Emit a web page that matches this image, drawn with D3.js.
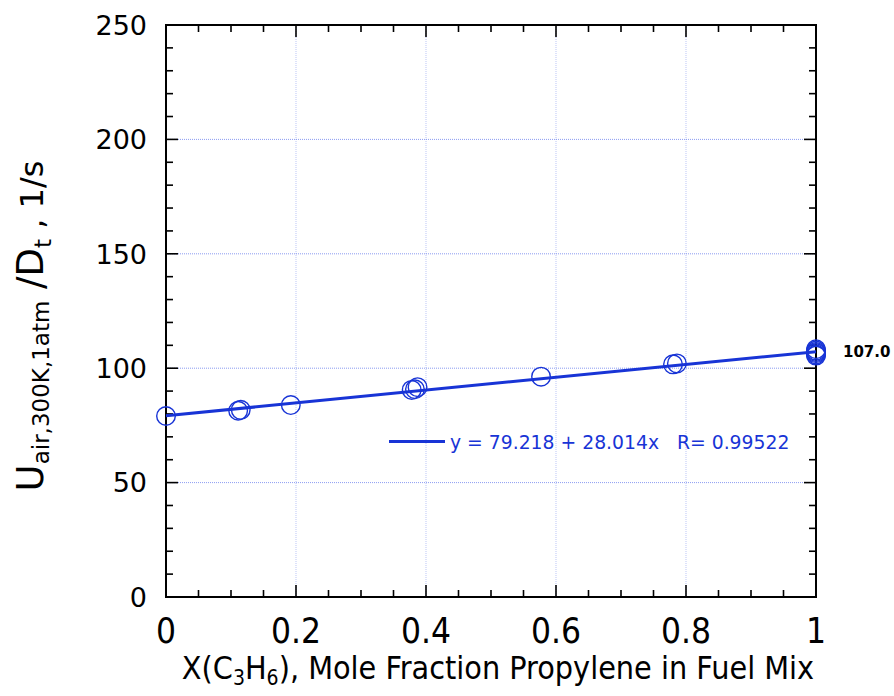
<!DOCTYPE html>
<html>
<head>
<meta charset="utf-8">
<script src="https://cdn.jsdelivr.net/npm/d3@7/dist/d3.min.js"></script>
<style>
  html, body { margin: 0; padding: 0; background: #fff; }
  svg { display: block; }
</style>
</head>
<body>
<svg id="chart" width="894" height="696"></svg>
<script>
// Measured strain rate at extinction vs. propylene mole fraction in the fuel
const xFraction = [0, 0.111, 0.115, 0.192, 0.378, 0.383, 0.387, 0.577, 0.780, 0.786, 1, 1, 1, 1, 1, 1];
const strainRate = [79.1, 81.4, 81.8, 83.9, 90.5, 90.8, 91.7, 96.3, 101.7, 102.1, 105.5, 106.0, 106.6, 107.1, 107.7, 108.3];

// Linear fit y = a + b x
const fitIntercept = 79.218;
const fitSlope = 28.014;
const fitR = 0.99522;
const endLabel = "107.0";

const xTicks = [0, 0.2, 0.4, 0.6, 0.8, 1];
const xTickLabels = ["0", "0.2", "0.4", "0.6", "0.8", "1"];
const yTicks = [0, 50, 100, 150, 200, 250];

const blue = "#1834d6";
const svg = d3.select("#chart");
const plotL = 166, plotR = 816, plotT = 25, plotB = 597;

const x = d3.scaleLinear().domain([0, 1]).range([plotL, plotR]);
const y = d3.scaleLinear().domain([0, 250]).range([plotB, plotT]);

// grid lines at the major ticks
const grid = svg.append("g");
grid.selectAll("line.gx").data(xTicks.slice(1, -1)).join("line")
  .attr("x1", d => x(d)).attr("x2", d => x(d))
  .attr("y1", plotT).attr("y2", plotB)
  .attr("stroke", "#8f9ff0").attr("stroke-width", 0.6)
  .attr("stroke-dasharray", "1,1");
grid.selectAll("line.gy").data(yTicks.slice(1, -1)).join("line")
  .attr("x1", plotL).attr("x2", plotR)
  .attr("y1", d => y(d)).attr("y2", d => y(d))
  .attr("stroke", "#6f82ee").attr("stroke-width", 0.8)
  .attr("stroke-dasharray", "1,1");

// inward ticks on all four sides
const xMinor = d3.range(0, 1.0001, 0.05);
const yMinor = d3.range(0, 250.001, 10);
const majLen = 12, minLen = 7;
function isMajorX(v) { return Math.abs(v * 5 - Math.round(v * 5)) < 1e-6; }
function isMajorY(v) { return Math.abs(v / 50 - Math.round(v / 50)) < 1e-6; }

const axisG = svg.append("g").attr("stroke", "#000").attr("stroke-width", 1.6);
axisG.selectAll("line.xb").data(xMinor).join("line")
  .attr("x1", d => x(d)).attr("x2", d => x(d))
  .attr("y1", plotB).attr("y2", d => plotB - (isMajorX(d) ? majLen : minLen));
axisG.selectAll("line.xt").data(xMinor).join("line")
  .attr("x1", d => x(d)).attr("x2", d => x(d))
  .attr("y1", plotT).attr("y2", d => plotT + (isMajorX(d) ? majLen : minLen));
axisG.selectAll("line.yl").data(yMinor).join("line")
  .attr("y1", d => y(d)).attr("y2", d => y(d))
  .attr("x1", plotL).attr("x2", d => plotL + (isMajorY(d) ? majLen : minLen));
axisG.selectAll("line.yr").data(yMinor).join("line")
  .attr("y1", d => y(d)).attr("y2", d => y(d))
  .attr("x1", plotR).attr("x2", d => plotR - (isMajorY(d) ? majLen : minLen));
svg.append("rect")
  .attr("x", plotL).attr("y", plotT).attr("width", plotR - plotL).attr("height", plotB - plotT)
  .attr("fill", "none").attr("stroke", "#000").attr("stroke-width", 2);

// tick labels
svg.append("g").selectAll("text").data(yTicks).join("text")
  .attr("x", 147).attr("y", d => y(d)).attr("dy", "0.36em")
  .attr("text-anchor", "end")
  .attr("font-family", "DejaVu Sans, sans-serif").attr("font-size", 27)
  .text(d => d);
svg.append("g").selectAll("text").data(xTicks).join("text")
  .attr("x", d => x(d)).attr("y", 643)
  .attr("text-anchor", "middle")
  .attr("font-family", "Liberation Sans Narrow, DejaVu Sans Condensed, sans-serif")
  .attr("font-size", 35)
  .text((d, i) => xTickLabels[i]);

// fit line
svg.append("line")
  .attr("x1", x(0)).attr("y1", y(fitIntercept))
  .attr("x2", x(1)).attr("y2", y(fitIntercept + fitSlope))
  .attr("stroke", blue).attr("stroke-width", 3);

// data points
svg.append("g").selectAll("circle").data(xFraction).join("circle")
  .attr("cx", d => x(d)).attr("cy", (d, i) => y(strainRate[i]))
  .attr("r", 9.3).attr("fill", "none")
  .attr("stroke", blue).attr("stroke-width", 1.4);

// end value label
svg.append("text")
  .attr("x", 843).attr("y", y(fitIntercept + fitSlope)).attr("dy", "0.36em")
  .attr("font-family", "DejaVu Sans, sans-serif").attr("font-weight", "bold")
  .attr("font-size", 15).text(endLabel);

// legend
svg.append("line").attr("x1", 389).attr("x2", 445).attr("y1", 441.5).attr("y2", 441.5)
  .attr("stroke", blue).attr("stroke-width", 3);
svg.append("text").attr("x", 450).attr("y", 449)
  .attr("font-family", "DejaVu Sans, sans-serif").attr("font-size", 18.8)
  .attr("fill", blue).attr("xml:space", "preserve")
  .text(`y = ${fitIntercept} + ${fitSlope}x   R= ${fitR}`);

// axis titles
const xt = svg.append("text").attr("x", 498).attr("y", 679).attr("text-anchor", "middle")
  .attr("font-family", "Liberation Sans Narrow, DejaVu Sans Condensed, sans-serif")
  .attr("font-size", 32);
xt.append("tspan").text("X(C");
xt.append("tspan").attr("font-size", 21).attr("dy", 6).text("3");
xt.append("tspan").attr("dy", -6).text("H");
xt.append("tspan").attr("font-size", 21).attr("dy", 6).text("6");
xt.append("tspan").attr("dy", -6).text("), Mole Fraction Propylene in Fuel Mix");

const yt = svg.append("text").attr("transform", "translate(43,326) rotate(-90)")
  .attr("text-anchor", "middle")
  .attr("font-family", "DejaVu Sans, sans-serif").attr("font-size", 37);
yt.append("tspan").text("U");
yt.append("tspan").attr("font-size", 23).attr("dy", 6).text("air,300K,1atm");
yt.append("tspan").attr("dy", -6).text(" /D");
yt.append("tspan").attr("font-size", 23).attr("dy", 8).text("t");
yt.append("tspan").attr("dy", -8).attr("font-size", 32).text(" , 1/s");
</script>
</body>
</html>
